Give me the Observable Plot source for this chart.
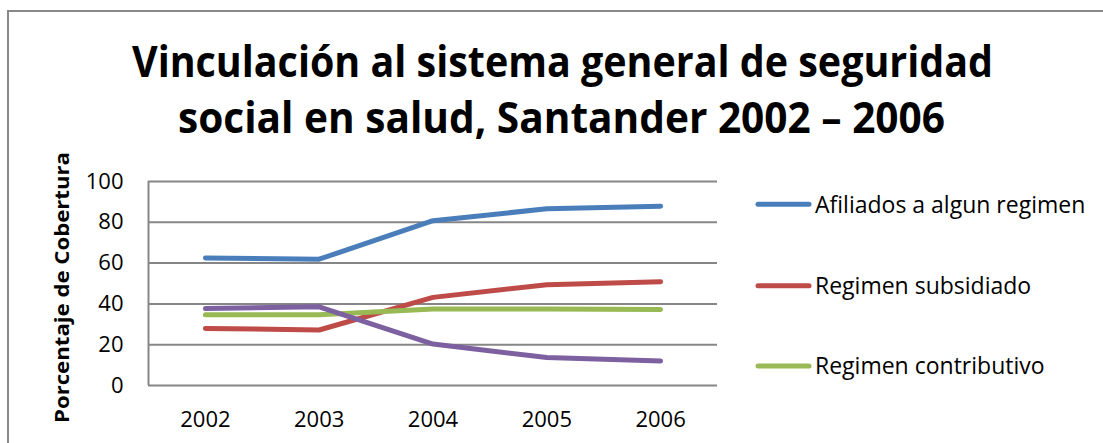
<!DOCTYPE html>
<html><head><meta charset="utf-8">
<script src="https://cdn.jsdelivr.net/npm/d3@7"></script>
<script src="https://cdn.jsdelivr.net/npm/@observablehq/plot@0.6"></script>
<style>
body{margin:0;background:#fff;}
#wrap{position:relative;width:1103px;height:443px;overflow:hidden;font-family:"Open Sans",sans-serif;background:#fff;}
#frame{position:absolute;left:7px;top:10px;width:1200px;height:600px;border-left:2px solid #898989;border-top:2px solid #898989;}
#chart,#overlay{position:absolute;left:0;top:0;}
</style></head><body>
<div id="wrap"><div id="frame"></div><div id="chart"></div><svg id="overlay" width="1103" height="443"></svg></div>
<script>
const years = [2002, 2003, 2004, 2005, 2006];
const seriesNames = ["Afiliados a algun regimen", "Regimen subsidiado", "Regimen contributivo", "No afiliados"];
const afiliados = [62.5, 61.9, 80.8, 86.6, 87.9];
const subsidiado = [28.0, 27.2, 43.2, 49.4, 50.9];
const contributivo = [34.7, 34.7, 37.5, 37.5, 37.3];
const noAfiliados = [37.7, 38.6, 20.3, 13.7, 12.0];
const colors = ["#4A7EBB", "#BE4B48", "#98B954", "#7D60A0"];
const yTicks = [0, 20, 40, 60, 80, 100];
const titleLines = ["Vinculación al sistema general de seguridad", "social en salud, Santander 2002 – 2006"];
const yTitle = "Porcentaje de Cobertura";
const legendShown = 3;

const seriesValues = [afiliados, subsidiado, contributivo, noAfiliados];
const rows = seriesNames.flatMap((s, i) => years.map((y, j) => ({series: s, year: y, value: seriesValues[i][j]})));

const plot = Plot.plot({
  width: 1103, height: 443,
  marginLeft: 148, marginRight: 386, marginTop: 181, marginBottom: 58,
  style: {fontFamily: "'Open Sans',sans-serif", fontSize: "22px", color: "#000", background: "transparent"},
  x: {domain: [years[0] - 0.5, years[years.length - 1] + 0.5]},
  y: {domain: [0, 100]},
  color: {domain: seriesNames, range: colors},
  marks: [
    Plot.ruleY(yTicks, {stroke: "#868686", strokeWidth: 2}),
    Plot.ruleX([years[0] - 0.5], {stroke: "#868686", strokeWidth: 2}),
    Plot.line(rows, {x: "year", y: "value", z: "series", stroke: "series", strokeWidth: 5, strokeLinecap: "round", strokeLinejoin: "round"}),
    Plot.axisX(years, {tickSize: 0, tickPadding: 26, tickFormat: "d", label: null, fontSize: 22}),
    Plot.axisY(yTicks, {tickSize: 0, tickPadding: 25, label: null, fontSize: 22})
  ]
});
document.getElementById("chart").appendChild(plot);

const ov = d3.select("#overlay");
const tl = [{x: 562.5, y: 77, len: 861}, {x: 561.5, y: 133, len: 767}];
ov.selectAll("text.title").data(titleLines).join("text")
  .attr("class", "title")
  .attr("x", (d, i) => tl[i].x).attr("y", (d, i) => tl[i].y)
  .attr("text-anchor", "middle")
  .attr("textLength", (d, i) => tl[i].len).attr("lengthAdjust", "spacingAndGlyphs")
  .style("font-family", "'Open Sans',sans-serif").style("font-weight", "bold").style("font-size", "43px")
  .text(d => d);

ov.append("text")
  .attr("transform", "translate(69,287.5) rotate(-90)")
  .attr("text-anchor", "middle")
  .attr("textLength", 271).attr("lengthAdjust", "spacingAndGlyphs")
  .style("font-family", "'Open Sans',sans-serif").style("font-weight", "bold").style("font-size", "20px")
  .text(yTitle);

const legY = [204.3, 285.7, 366];
const leg = ov.selectAll("g.leg").data(seriesNames.slice(0, legendShown)).join("g").attr("class", "leg");
leg.append("line")
  .attr("x1", 758).attr("x2", 809).attr("y1", (d, i) => legY[i]).attr("y2", (d, i) => legY[i])
  .attr("stroke", (d, i) => colors[i]).attr("stroke-width", 5).attr("stroke-linecap", "round");
leg.append("text")
  .attr("x", 815).attr("y", (d, i) => legY[i]).attr("dy", "0.36em")
  .style("font-family", "'Open Sans',sans-serif").style("font-size", "23px").attr("fill", "#000")
  .text(d => d);
</script>
</body></html>
